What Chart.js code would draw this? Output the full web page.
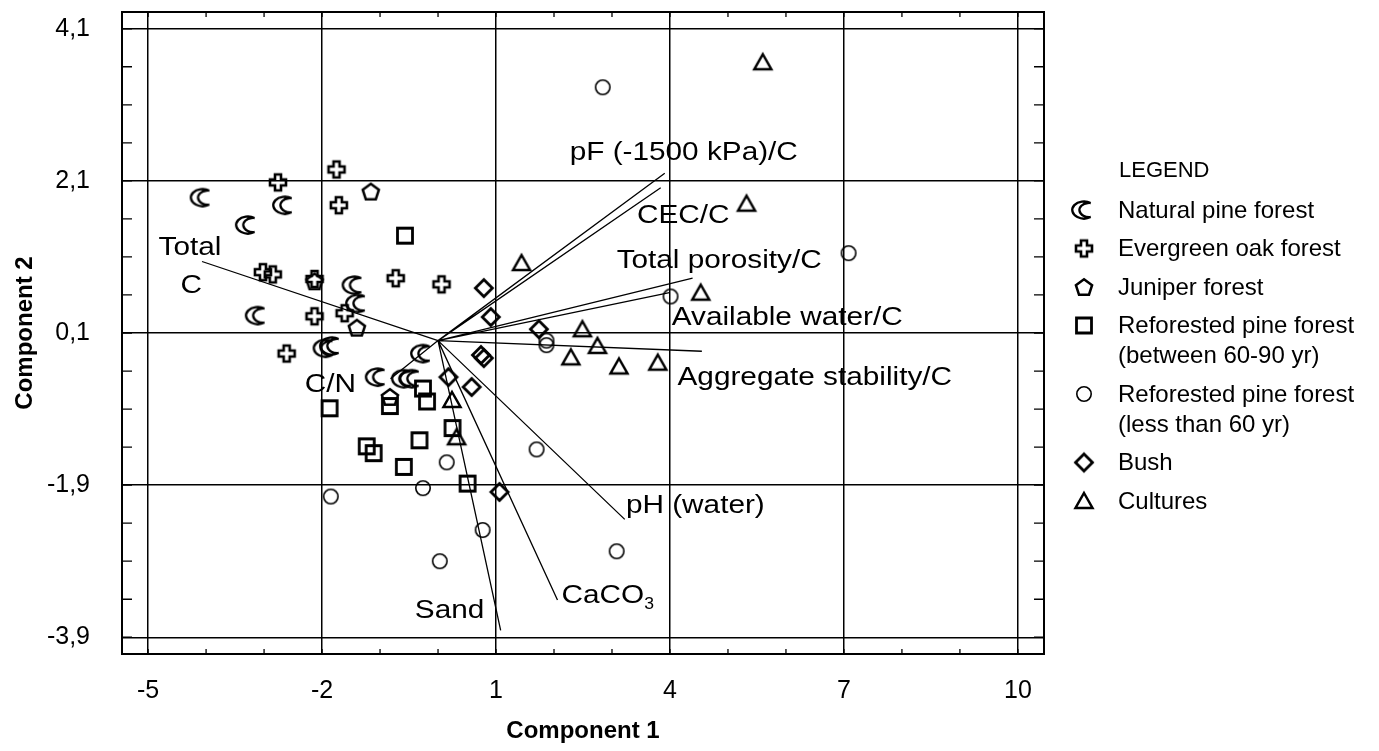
<!DOCTYPE html>
<html>
<head>
<meta charset="utf-8">
<script src="https://cdn.jsdelivr.net/npm/chart.js@4.4.1/dist/chart.umd.min.js"></script>
<style>
  html, body { margin: 0; background: #fff; }
  #wrap { width: 1379px; height: 751px; position: relative; }
</style>
</head>
<body>
<div id="wrap"><canvas id="pca"></canvas></div>
<script>
// scores (Component 1, Component 2)
const naturalPine = [[-4.06,1.88],[-3.28,1.52],[-2.64,1.78],[-3.11,0.33],[-1.44,0.73],[-1.38,0.49],
  [-1.94,-0.10],[-1.83,-0.07],[-0.26,-0.17],[-1.04,-0.48],[-0.59,-0.50],[-0.45,-0.50]];
const evergreenOak = [[-2.76,2.08],[-1.75,2.25],[-1.71,1.78],[-3.02,0.90],[-2.85,0.87],[-2.13,0.81],
  [-2.13,0.32],[-1.61,0.36],[-0.73,0.82],[0.06,0.74],[-2.61,-0.17]];
const juniper = [[-1.16,1.96],[-2.13,0.78],[-1.40,0.17],[-0.83,-0.74]];
const reforestedOld = [[-0.57,1.38],[-1.87,-0.89],[-0.83,-0.86],[-0.26,-0.63],[-0.19,-0.80],[0.25,-1.15],
  [-0.32,-1.31],[-1.23,-1.39],[-1.11,-1.48],[-0.59,-1.66],[0.51,-1.88]];
const reforestedYoung = [[2.84,3.33],[7.08,1.15],[4.01,0.58],[1.87,0.00],[1.87,-0.06],[1.70,-1.43],
  [0.15,-1.60],[-0.26,-1.94],[-1.85,-2.05],[0.77,-2.49],[0.03,-2.90],[3.08,-2.77]];
const bush = [[0.79,0.69],[0.91,0.31],[1.74,0.15],[0.74,-0.19],[0.79,-0.23],[0.18,-0.48],[0.58,-0.61],[1.06,-1.99]];
const cultures = [[5.60,3.66],[5.32,1.80],[4.53,0.63],[1.44,1.02],[2.49,0.15],[2.75,-0.07],[2.29,-0.22],
  [3.12,-0.34],[3.79,-0.29],[0.24,-0.78],[0.32,-1.27]];

const groupNames = ['Natural pine forest', 'Evergreen oak forest', 'Juniper forest',
  'Reforested pine forest (between 60-90 yr)', 'Reforested pine forest (less than 60 yr)', 'Bush', 'Cultures'];
const legendLines = [['Natural pine forest'], ['Evergreen oak forest'], ['Juniper forest'],
  ['Reforested pine forest', '(between 60-90 yr)'], ['Reforested pine forest', '(less than 60 yr)'], ['Bush'], ['Cultures']];
const groupMarkers = ['crescent', 'cross', 'pentagon', 'square', 'circle', 'diamond', 'triangle'];

// loading vectors: end point of each arrow from the origin, and where its label sits
const vectorNames = ['pF (-1500 kPa)/C', 'CEC/C', 'Total porosity/C', 'Available water/C', 'Aggregate stability/C',
  'pH (water)', 'CaCO3', 'Sand', 'Total C', 'C/N'];
const vectorEnds = [[3.91,2.20],[3.84,2.01],[4.39,0.82],[3.99,0.63],[4.55,-0.14],[3.22,-2.35],[2.06,-3.41],
  [1.08,-3.81],[-4.07,1.04],[-0.82,-0.50]];
const labelAnchors = [[2.27,2.38],[3.43,1.54],[3.08,0.96],[4.03,0.20],[4.13,-0.59],[3.24,-2.26],[2.13,-3.45],
  [-0.40,-3.65],[-4.82,1.12],[-2.30,-0.68]];
const totalCLabelLines = ['Total', 'C'];
const totalCSecondLine = [-4.44, 0.63];

const xTicks = [-5, -2, 1, 4, 7, 10];
const yTicks = [4.1, 2.1, 0.1, -1.9, -3.9];

const FONT = '"Liberation Sans", Arial, Helvetica, sans-serif';

function makeMarker(kind) {
  const c = document.createElement('canvas');
  c.width = 30; c.height = 28;
  const g = c.getContext('2d');
  g.translate(15, 14);
  g.strokeStyle = '#000';
  g.lineJoin = 'miter';
  g.beginPath();
  if (kind === 'crescent') {
    // moon shape opening to the right, a bit wider than tall
    const a = 55.5 * Math.PI / 180, b = 81.5 * Math.PI / 180;
    g.save();
    g.scale(1.3, 0.95);
    g.arc(0, 0, 9, -a, a, true);
    g.arc(4, 0, 7.5, b, -b, false);
    g.closePath();
    g.restore();
    g.lineWidth = 2.4;
  } else if (kind === 'cross') {
    const a = 3, b = 8;
    const pts = [[-a,-b],[a,-b],[a,-a],[b,-a],[b,a],[a,a],[a,b],[-a,b],[-a,a],[-b,a],[-b,-a],[-a,-a]];
    pts.forEach((p, i) => i ? g.lineTo(p[0], p[1]) : g.moveTo(p[0], p[1]));
    g.closePath();
    g.lineWidth = 2.6;
  } else if (kind === 'pentagon') {
    for (let i = 0; i < 5; i++) {
      const ang = -Math.PI / 2 + i * 2 * Math.PI / 5;
      const x = 8.5 * Math.cos(ang), y = 8.5 * Math.sin(ang) + 0.8;
      i ? g.lineTo(x, y) : g.moveTo(x, y);
    }
    g.closePath();
    g.lineWidth = 2.5;
  } else if (kind === 'square') {
    g.rect(-7.5, -7.5, 15, 15);
    g.lineWidth = 2.8;
  } else if (kind === 'circle') {
    g.arc(0, 0, 7.2, 0, Math.PI * 2);
    g.lineWidth = 1.6;
  } else if (kind === 'diamond') {
    g.moveTo(0, -8.5); g.lineTo(8.5, 0); g.lineTo(0, 8.5); g.lineTo(-8.5, 0);
    g.closePath();
    g.lineWidth = 2.8;
  } else if (kind === 'triangle') {
    g.moveTo(0, -8); g.lineTo(8.5, 7); g.lineTo(-8.5, 7);
    g.closePath();
    g.lineWidth = 2.5;
  }
  g.stroke();
  return c;
}

const groups = [naturalPine, evergreenOak, juniper, reforestedOld, reforestedYoung, bush, cultures];
const markerImgs = groupMarkers.map(makeMarker);

const datasets = groups.map((pts, i) => ({
  label: groupNames[i],
  data: pts.map(p => ({ x: p[0], y: p[1] })),
  pointStyle: markerImgs[i],
  pointRadius: 9,
  showLine: false
}));

function stretchedText(ctx, txt, x, y, size, sx) {
  ctx.save();
  ctx.translate(x, y);
  ctx.scale(sx, 1);
  ctx.font = size + 'px ' + FONT;
  ctx.fillText(txt, 0, 0);
  const w = ctx.measureText(txt).width * sx;
  ctx.restore();
  return w;
}

const framePlugin = {
  id: 'frame',
  beforeDatasetsDraw(chart) {
    const { ctx, chartArea: a, scales: { x, y } } = chart;
    ctx.save();
    ctx.strokeStyle = '#000';
    ctx.lineWidth = 2;
    ctx.strokeRect(a.left, a.top, a.right - a.left, a.bottom - a.top);
    ctx.lineWidth = 1.3;
    ctx.beginPath();
    for (let v = -5; v <= 10; v++) {
      const px = x.getPixelForValue(v);
      ctx.moveTo(px, a.top); ctx.lineTo(px, a.top + 5);
      ctx.moveTo(px, a.bottom); ctx.lineTo(px, a.bottom - 5);
    }
    for (let k = 0; k <= 16; k++) {
      const v = 4.1 - 0.5 * k;
      const py = y.getPixelForValue(v);
      ctx.moveTo(a.left, py); ctx.lineTo(a.left + 10, py);
      ctx.moveTo(a.right, py); ctx.lineTo(a.right - 10, py);
    }
    ctx.stroke();

    // loading vectors
    ctx.lineWidth = 1.3;
    ctx.beginPath();
    const ox = x.getPixelForValue(0), oy = y.getPixelForValue(0);
    vectorEnds.forEach(e => {
      ctx.moveTo(ox, oy);
      ctx.lineTo(x.getPixelForValue(e[0]), y.getPixelForValue(e[1]));
    });
    ctx.stroke();

    ctx.fillStyle = '#000';
    ctx.textBaseline = 'alphabetic';
    ctx.textAlign = 'left';
    vectorNames.forEach((name, i) => {
      const lx = x.getPixelForValue(labelAnchors[i][0]);
      const ly = y.getPixelForValue(labelAnchors[i][1]);
      if (name === 'CaCO3') {
        const w = stretchedText(ctx, 'CaCO', lx, ly, 25, 1.19);
        stretchedText(ctx, '3', lx + w, ly + 6, 16, 1.1);
      } else if (name === 'Total C') {
        stretchedText(ctx, totalCLabelLines[0], lx, ly, 25, 1.19);
        stretchedText(ctx, totalCLabelLines[1], x.getPixelForValue(totalCSecondLine[0]),
          y.getPixelForValue(totalCSecondLine[1]), 25, 1.19);
      } else {
        stretchedText(ctx, name, lx, ly, 25, 1.19);
      }
    });
    ctx.restore();
  },
  afterDraw(chart) {
    const { ctx } = chart;
    ctx.save();
    ctx.fillStyle = '#000';
    ctx.textBaseline = 'middle';
    ctx.textAlign = 'left';
    ctx.font = '22px ' + FONT;
    ctx.fillText('LEGEND', 1119, 171);
    ctx.font = '24px ' + FONT;
    let yy = 210;
    legendLines.forEach((lines, i) => {
      ctx.drawImage(markerImgs[i], 1084 - 15, yy - 14);
      lines.forEach((t, j) => {
        ctx.fillText(t, 1118, yy + 1);
        if (j < lines.length - 1) yy += 30;
      });
      yy += 38.5;
    });
    ctx.restore();
  }
};

new Chart(document.getElementById('pca'), {
  type: 'scatter',
  data: { datasets },
  plugins: [framePlugin],
  options: {
    responsive: true,
    maintainAspectRatio: false,
    animation: false,
    events: [],
    layout: { padding: { left: 0, top: 12, right: 335, bottom: 0 } },
    plugins: { legend: { display: false }, tooltip: { enabled: false } },
    scales: {
      x: {
        type: 'linear', min: -5.45, max: 10.45,
        afterBuildTicks: axis => { axis.ticks = xTicks.map(v => ({ value: v })); },
        afterFit: axis => { axis.height = 97; axis.paddingLeft = 0; axis.paddingRight = 0; },
        grid: { color: '#000', lineWidth: 1.5, drawTicks: false },
        border: { display: false },
        ticks: { color: '#000', padding: 22, font: { family: FONT, size: 25 }, callback: v => String(v) },
        title: { display: true, text: 'Component 1', color: '#000',
          font: { family: FONT, size: 24, weight: 'bold' }, padding: { top: 0, bottom: 5 } }
      },
      y: {
        type: 'linear', min: -4.12, max: 4.32,
        afterBuildTicks: axis => { axis.ticks = yTicks.map(v => ({ value: v })); },
        afterFit: axis => { axis.width = 122; axis.paddingTop = 0; axis.paddingBottom = 0; },
        grid: { color: '#000', lineWidth: 1.5, drawTicks: false },
        border: { display: false },
        ticks: { color: '#000', padding: 32, font: { family: FONT, size: 25 },
          callback: v => v.toFixed(1).replace('.', ',') },
        title: { display: true, text: 'Component 2', color: '#000',
          font: { family: FONT, size: 24, weight: 'bold' }, padding: { top: 11, bottom: 0 } }
      }
    }
  }
});
</script>
</body>
</html>
